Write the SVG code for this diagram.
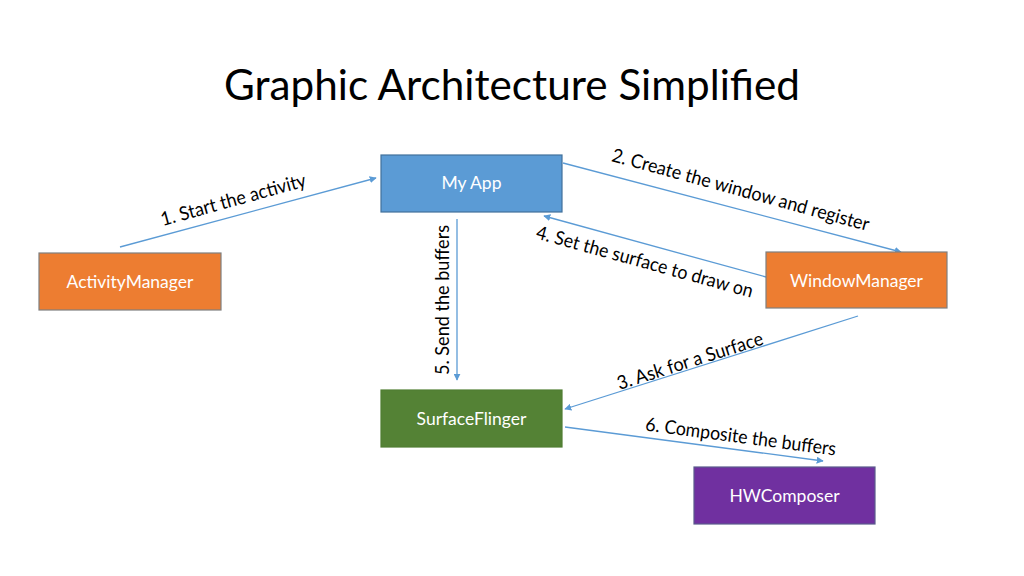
<svg xmlns="http://www.w3.org/2000/svg" width="1024" height="576" viewBox="0 0 1024 576">
<defs>
<marker id="arr" viewBox="0 0 10 10" refX="9" refY="5" markerWidth="7" markerHeight="7" markerUnits="userSpaceOnUse" orient="auto">
<path d="M0,0 L10,5 L0,10 z" fill="#5B9BD5"/>
</marker>
<style>
.box{stroke-width:1.2}
.nt{font-family:Lato,"Open Sans","Liberation Sans",sans-serif;font-size:17.5px;fill:#fff;text-anchor:middle;dominant-baseline:central}
.lb{font-family:Lato,"Open Sans","Liberation Sans",sans-serif;font-size:19px;fill:#000;text-anchor:middle}
.cn{stroke:#5B9BD5;stroke-width:1.3;fill:none;marker-end:url(#arr)}
</style>
</defs>
<rect width="1024" height="576" fill="#fff"/>
<text x="512" y="100" font-family="Lato,'Open Sans','Liberation Sans',sans-serif" font-size="43" text-anchor="middle" textLength="576" lengthAdjust="spacingAndGlyphs" fill="#000">Graphic Architecture Simplified</text>
<g id="connectors">
<line class="cn" x1="120" y1="247" x2="376" y2="178"/>
<line class="cn" x1="563" y1="163" x2="901" y2="252"/>
<line class="cn" x1="766" y1="277" x2="544" y2="216"/>
<line class="cn" x1="457" y1="219" x2="457" y2="380"/>
<line class="cn" x1="858" y1="316" x2="565" y2="409"/>
<line class="cn" x1="565" y1="427" x2="823" y2="461"/>
</g>
<g id="labels">
<text class="lb" transform="translate(235,206) rotate(-15.5)" textLength="150" lengthAdjust="spacingAndGlyphs">1. Start the activity</text>
<text class="lb" transform="translate(739,196) rotate(15.3)" textLength="266" lengthAdjust="spacingAndGlyphs">2. Create the window and register</text>
<text class="lb" transform="translate(643,268) rotate(15.4)" textLength="224" lengthAdjust="spacingAndGlyphs">4. Set the surface to draw on</text>
<text class="lb" transform="translate(449,300) rotate(-90)" textLength="150" lengthAdjust="spacingAndGlyphs">5. Send the buffers</text>
<text class="lb" transform="translate(692,367) rotate(-17.6)" textLength="152" lengthAdjust="spacingAndGlyphs">3. Ask for a Surface</text>
<text class="lb" transform="translate(740,443) rotate(7.5)" textLength="192" lengthAdjust="spacingAndGlyphs">6. Composite the buffers</text>
</g>
<g id="myapp">
<rect class="box" x="381" y="155" width="181" height="57" fill="#5B9BD5" stroke="#41719C"/>
<text class="nt" x="471.5" y="182">My App</text>
</g>
<g id="activitymanager">
<rect class="box" x="39" y="253" width="182" height="57" fill="#ED7D31" stroke="#7F7F7F"/>
<text class="nt" x="130" y="281">ActivityManager</text>
</g>
<g id="windowmanager">
<rect class="box" x="766" y="252" width="181" height="56" fill="#ED7D31" stroke="#7F7F7F"/>
<text class="nt" x="856.5" y="280">WindowManager</text>
</g>
<g id="surfaceflinger">
<rect class="box" x="381" y="390" width="181" height="57" fill="#548235" stroke="#507E32"/>
<text class="nt" x="471.5" y="418">SurfaceFlinger</text>
</g>
<g id="hwcomposer">
<rect class="box" x="694" y="467" width="181" height="57" fill="#7030A0" stroke="#5A5A8C"/>
<text class="nt" x="784.5" y="495">HWComposer</text>
</g>
</svg>
